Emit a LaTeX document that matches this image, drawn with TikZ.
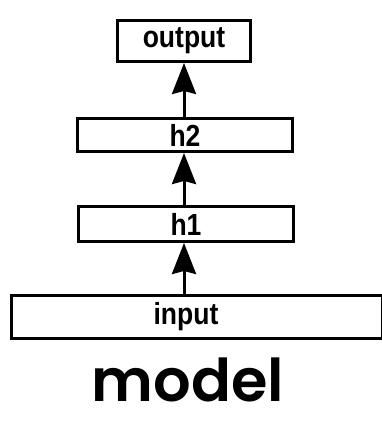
\documentclass[tikz,border=0pt]{standalone}
\usepackage{fontspec}
\usepackage{graphicx}
\setmainfont{Liberation Sans}
\newfontfamily\titlefont{Poppins SemiBold}
\usetikzlibrary{arrows.meta}
% box labels are set slightly taller than the font's natural shape
\newcommand{\tallword}[1]{\scalebox{1}[1.15]{#1}}
\tikzset{
  labelfont/.style={font=\fontsize{26.5}{30}\selectfont\bfseries},
  layer/.style={draw=black, line width=3pt, fill=white, inner sep=0pt, labelfont},
  flow/.style={line width=3pt, -{Stealth[length=31pt, width=24pt, inset=3pt]}},
  caption/.style={font=\titlefont\fontsize{59}{64}\selectfont, anchor=base, inner sep=0pt}
}
\begin{document}
\begin{tikzpicture}[x=1pt, y=-1pt]
  \useasboundingbox (0,0) rectangle (382,421);
  \fill[white] (0,0) rectangle (382,421);

  % stacked layers, bottom to top
  \node[layer, minimum width=370.5pt, minimum height=43pt] (input) at (196.75,317) {};
  \node[labelfont, inner sep=0pt] (inputtext) at (186,317) {\tallword{input}};
  \node[layer, minimum width=215pt, minimum height=35pt] (h1) at (186,224) {\tallword{h1}};
  \node[layer, minimum width=215pt, minimum height=33pt] (h2) at (185,135) {\tallword{h2}};
  \node[layer, minimum width=133pt, minimum height=41pt] (output) at (184,41) {\tallword{output}};

  % upward connections
  \coordinate (spine) at (184,0);
  \draw[flow] (input.north -| spine) -- (h1.south -| spine);
  \draw[flow] (h1.north -| spine) -- (h2.south -| spine);
  \draw[flow] (h2.north -| spine) -- (output.south -| spine);

  \node[caption] (title) at (188,401) {model};
\end{tikzpicture}
\end{document}
